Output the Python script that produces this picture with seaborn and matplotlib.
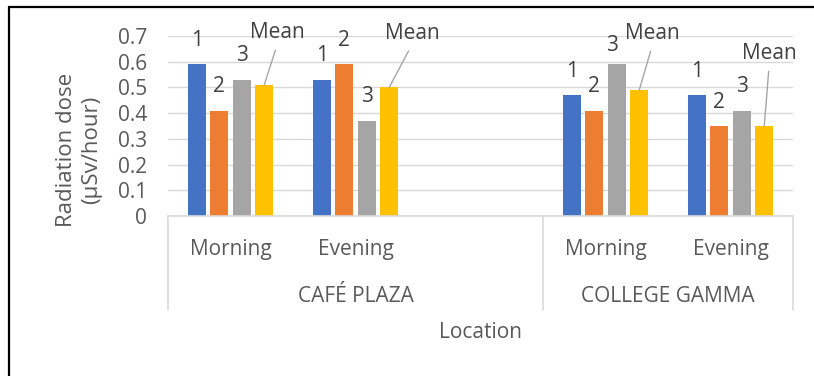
import matplotlib
matplotlib.use("Agg")
import matplotlib.pyplot as plt
import matplotlib.lines as mlines
import seaborn as sns
import pandas as pd

# ---- data ----
locations = ["CAFÉ PLAZA", "CAFÉ PLAZA", "CAFÉ PLAZA", "COLLEGE GAMMA", "COLLEGE GAMMA"]
times = ["Morning", "Evening", "", "Morning", "Evening"]
readings = ["1", "2", "3", "Mean"]
dose_1 = [0.59, 0.53, None, 0.47, 0.47]
dose_2 = [0.41, 0.59, None, 0.41, 0.35]
dose_3 = [0.53, 0.37, None, 0.59, 0.41]
dose_mean = [0.51, 0.50, None, 0.49, 0.35]
y_ticks = [0, 0.1, 0.2, 0.3, 0.4, 0.5, 0.6, 0.7]
y_tick_labels = ["0", "0.1", "0.2", "0.3", "0.4", "0.5", "0.6", "0.7"]
colors = ["#4472C4", "#ED7D31", "#A5A5A5", "#FFC000"]

slots = [f"{l}|{t}|{i}" for i, (l, t) in enumerate(zip(locations, times))]
rows = []
for r, vals in zip(readings, [dose_1, dose_2, dose_3, dose_mean]):
    for s, v in zip(slots, vals):
        if v is not None:
            rows.append({"slot": s, "reading": r, "dose": v})
df = pd.DataFrame(rows)

# label placement offsets in pixels (styling)
std_off = (0, 24)
special_off = {(3, "3"): (-5, 19)}
mean_off = {0: (13.5, 52.5), 1: (23, 54), 3: (13.5, 56.5), 4: (5, 72.5)}

sns.set_style("white")
plt.rcParams["font.family"] = ["Open Sans", "DejaVu Sans"]
TXT = "#595959"

fig = plt.figure(figsize=(8.14, 3.76), dpi=100)
W, H = 814, 376
ax = fig.add_axes([168 / W, 1 - 216 / H, 625 / W, 180 / H])

sns.barplot(data=df, x="slot", y="dose", hue="reading", order=slots,
            hue_order=readings, palette=colors, width=0.72, gap=0.22,
            saturation=1, legend=False, ax=ax, linewidth=0, errorbar=None)

ax.set_ylim(0, 0.7)
ax.set_xlim(-0.5, len(slots) - 0.5)
ax.set_yticks(y_ticks)
ax.set_yticklabels(y_tick_labels)
ax.tick_params(axis="y", length=0, pad=15, labelsize=15, labelcolor=TXT)
ax.set_xticks([])
ax.set_xlabel("")
ax.set_ylabel("")
ax.set_axisbelow(True)
ax.yaxis.grid(True, color="#d9d9d9", lw=1.0)
for s in ["top", "right", "left"]:
    ax.spines[s].set_visible(False)
ax.spines["bottom"].set_color("#d9d9d9")
ax.spines["bottom"].set_linewidth(1.2)

# data labels
for ci, cont in enumerate(ax.containers):
    r = readings[ci]
    for bar in cont:
        h = bar.get_height()
        if h != h or h == 0:
            continue
        x = bar.get_x() + bar.get_width() / 2
        idx = int(round(x))
        if r == "Mean":
            dx, dy = mean_off[idx]
            ax.annotate(r, xy=(x, h), xytext=(dx, dy), textcoords="offset pixels",
                        ha="center", va="center", fontsize=15, color="#404040",
                        arrowprops=dict(arrowstyle="-", color="#a6a6a6", lw=1.0,
                                        shrinkA=3, shrinkB=0, relpos=(0.5, 0)))
        else:
            dx, dy = special_off.get((idx, r), std_off)
            ax.annotate(r, xy=(x, h), xytext=(dx, dy), textcoords="offset pixels",
                        ha="center", va="center", fontsize=15, color="#404040")

# multi-level category axis
trans = ax.get_xaxis_transform()
for i, t in enumerate(times):
    if t:
        ax.text(i, -39 / 180, t, transform=trans, ha="center", va="baseline",
                fontsize=15, color=TXT)
groups = []
for i, l in enumerate(locations):
    if groups and groups[-1][0] == l:
        groups[-1][2] = i
    else:
        groups.append([l, i, i])
bounds = set()
for name, a, b in groups:
    ax.text((a + b) / 2, -86 / 180, name, transform=trans, ha="center",
            va="baseline", fontsize=15, color=TXT)
    bounds.add(a - 0.5)
    bounds.add(b + 0.5)
for bx in sorted(bounds):
    ax.plot([bx, bx], [0, -94 / 180], transform=trans, color="#d9d9d9",
            lw=1.2, clip_on=False)

ax.text(0.5, -122 / 180, "Location", transform=ax.transAxes, ha="center",
        va="baseline", fontsize=15, color=TXT)
fig.text(79 / W, 1 - 150 / H, "Radiation dose\n(µSv/hour)", rotation=90,
         ha="center", va="center", multialignment="center", fontsize=16,
         color=TXT, linespacing=1.3)

# outer frame (top and left edges)
fig.add_artist(mlines.Line2D([9 / W, 1], [1 - 7 / H, 1 - 7 / H], color="black", lw=1.6))
fig.add_artist(mlines.Line2D([9 / W, 9 / W], [0, 1 - 7 / H], color="black", lw=1.6))

fig.savefig("out.png", dpi=100)
